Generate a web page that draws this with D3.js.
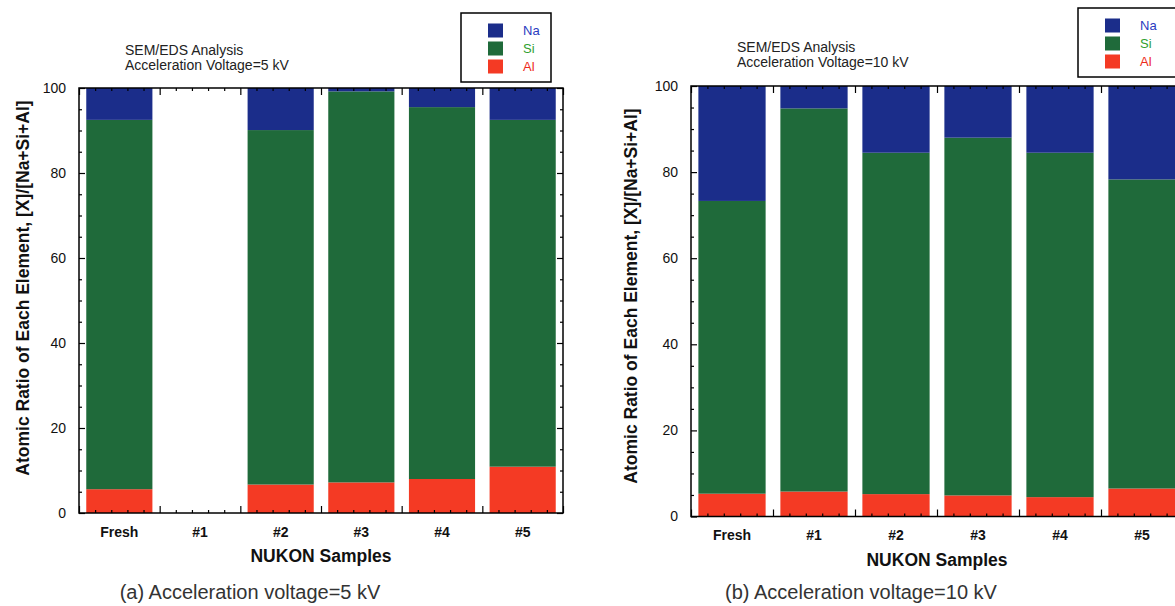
<!DOCTYPE html>
<html>
<head>
<meta charset="utf-8">
<script src="https://cdn.jsdelivr.net/npm/d3@7"></script>
<style>
  html, body { margin: 0; padding: 0; background: #fff; }
  svg { display: block; font-family: "Liberation Sans", Arial, sans-serif; }
</style>
</head>
<body>
<svg id="chart" width="1175" height="606"></svg>
<script>
// ---- data ----
const categories = ["Fresh", "#1", "#2", "#3", "#4", "#5"];
const seriesNames = ["Al", "Si", "Na"];
const legendOrder = ["Na", "Si", "Al"];
// panel (a): 5 kV
const al5  = [5.6, 0, 6.7, 7.2, 8.0, 10.9];
const si5  = [86.9, 0, 83.4, 92.0, 87.5, 81.6];
const na5  = [7.5, 0, 9.9, 0.8, 4.5, 7.5];
// panel (b): 10 kV
const al10 = [5.3, 5.8, 5.2, 4.9, 4.5, 6.5];
const si10 = [68.0, 89.0, 79.3, 83.1, 80.0, 71.8];
const na10 = [26.7, 5.2, 15.5, 12.0, 15.5, 21.7];
const yMajorTicks = [0, 20, 40, 60, 80, 100];
const yLabel = "Atomic Ratio of Each Element, [X]/[Na+Si+Al]";
const xLabel = "NUKON Samples";
const titleLine1 = "SEM/EDS Analysis";
const titles5 = [titleLine1, "Acceleration Voltage=5 kV"];
const titles10 = [titleLine1, "Acceleration Voltage=10 kV"];
const caption5 = "(a) Acceleration voltage=5 kV";
const caption10 = "(b) Acceleration voltage=10 kV";

// ---- styles ----
const fills = { Na: "#1b2d8a", Si: "#1f6a3a", Al: "#f43a24" };
const textFills = { Na: "#2a3bc0", Si: "#2ea02e", Al: "#ee2a1a" };

const svg = d3.select("#chart");

function panel(cfg) {
  const { x0, x1, y0, y1, al, si, na, titles, caption, legend, titlePos, yLabelPos, captionX } = cfg;
  const g = svg.append("g");
  const rows = categories.map((c, i) => ({ cat: c, Al: al[i], Si: si[i], Na: na[i] }));
  const stack = d3.stack().keys(seriesNames)(rows);

  const x = d3.scaleBand().domain(categories).range([x0, x1]).paddingInner(0.18).paddingOuter(0.09);
  const y = d3.scaleLinear().domain([0, 100]).range([y1, y0]);
  const xl = d3.scaleLinear().domain([0, categories.length]).range([x0, x1]);

  // bars
  g.selectAll("g.series").data(stack).join("g")
    .attr("fill", d => fills[d.key])
    .selectAll("rect").data(d => d).join("rect")
    .attr("x", d => x(d.data.cat))
    .attr("width", x.bandwidth())
    .attr("y", d => y(d[1]))
    .attr("height", d => Math.max(0, y(d[0]) - y(d[1])));

  const minorY = d3.range(0, 101, 5).filter(v => v % 20 !== 0);
  const majorX = d3.range(0, categories.length + 1);
  const minorX = d3.range(0, categories.length * 5 + 1).map(v => v / 5).filter(v => Math.abs(v - Math.round(v)) > 1e-6);

  function clean(sel) { sel.select(".domain").remove(); sel.selectAll("line").attr("stroke", "#000").attr("stroke-width", 1.2); }

  // left axis (labels + inward ticks)
  g.append("g").attr("transform", `translate(${x0},0)`)
    .call(d3.axisLeft(y).tickValues(yMajorTicks).tickSize(-6).tickPadding(13))
    .call(clean)
    .call(s => s.selectAll("text").attr("font-size", 14).attr("fill", "#111")
      .attr("font-family", "'Liberation Sans', Arial, sans-serif"));
  g.append("g").attr("transform", `translate(${x0},0)`)
    .call(d3.axisLeft(y).tickValues(minorY).tickSize(-3).tickFormat(""))
    .call(clean);
  // right mirror ticks
  g.append("g").attr("transform", `translate(${x1},0)`)
    .call(d3.axisRight(y).tickValues(yMajorTicks).tickSize(-6).tickFormat(""))
    .call(clean);
  g.append("g").attr("transform", `translate(${x1},0)`)
    .call(d3.axisRight(y).tickValues(minorY).tickSize(-3).tickFormat(""))
    .call(clean);
  // bottom / top ticks
  g.append("g").attr("transform", `translate(0,${y1})`)
    .call(d3.axisBottom(xl).tickValues(majorX).tickSize(-7).tickFormat(""))
    .call(clean);
  g.append("g").attr("transform", `translate(0,${y1})`)
    .call(d3.axisBottom(xl).tickValues(minorX).tickSize(-3).tickFormat(""))
    .call(clean);
  g.append("g").attr("transform", `translate(0,${y0})`)
    .call(d3.axisTop(xl).tickValues(majorX).tickSize(-7).tickFormat(""))
    .call(clean);
  g.append("g").attr("transform", `translate(0,${y0})`)
    .call(d3.axisTop(xl).tickValues(minorX).tickSize(-3).tickFormat(""))
    .call(clean);

  // category labels
  g.append("g").attr("transform", `translate(0,${y1})`)
    .call(d3.axisBottom(x).tickSize(0).tickPadding(14))
    .call(s => s.select(".domain").remove())
    .call(s => s.selectAll("text").attr("font-size", 14).attr("font-weight", "bold").attr("fill", "#111")
      .attr("font-family", "'Liberation Sans', Arial, sans-serif"));

  // frame
  g.append("rect").attr("x", x0).attr("y", y0).attr("width", x1 - x0).attr("height", y1 - y0)
    .attr("fill", "none").attr("stroke", "#000").attr("stroke-width", 1.5);

  // x axis title
  g.append("text").attr("x", (x0 + x1) / 2).attr("y", y1 + 49)
    .attr("text-anchor", "middle").attr("font-size", 17.5).attr("font-weight", "bold").attr("fill", "#111")
    .text(xLabel);
  // y axis title
  g.append("text").attr("transform", `translate(${yLabelPos[0]},${yLabelPos[1]}) rotate(-90)`)
    .attr("text-anchor", "middle").attr("dy", "0.35em")
    .attr("font-size", 17.5).attr("font-weight", "bold").attr("fill", "#111")
    .text(yLabel);

  // titles
  titles.forEach((t, i) => {
    g.append("text").attr("x", titlePos[0]).attr("y", titlePos[1] + i * 15)
      .attr("font-size", 14).attr("fill", "#222").text(t);
  });

  // legend
  g.append("rect").attr("x", legend.x).attr("y", legend.y).attr("width", legend.w).attr("height", 69)
    .attr("fill", "#fff").attr("stroke", "#000").attr("stroke-width", 1.5);
  legendOrder.forEach((k, i) => {
    g.append("rect").attr("x", legend.x + 27).attr("y", legend.y + 10.5 + i * 18)
      .attr("width", 15).attr("height", 14).attr("fill", fills[k]);
    g.append("text").attr("x", legend.x + 62).attr("y", legend.y + 17.5 + i * 18)
      .attr("dy", "0.35em").attr("font-size", 13).attr("fill", textFills[k]).text(k);
  });

  // caption
  g.append("text").attr("x", captionX).attr("y", 599).attr("text-anchor", "middle")
    .attr("font-size", 20).attr("fill", "#333").text(caption);
}

panel({ x0: 79, x1: 563, y0: 88, y1: 513, al: al5, si: si5, na: na5, titles: titles5,
  caption: caption5, legend: { x: 461, y: 13, w: 90 }, titlePos: [125, 55], yLabelPos: [22.5, 288], captionX: 250 });
panel({ x0: 691, x1: 1183, y0: 86, y1: 516.5, al: al10, si: si10, na: na10, titles: titles10,
  caption: caption10, legend: { x: 1078, y: 8, w: 110 }, titlePos: [737, 52], yLabelPos: [630.5, 296], captionX: 861 });
</script>
</body>
</html>
